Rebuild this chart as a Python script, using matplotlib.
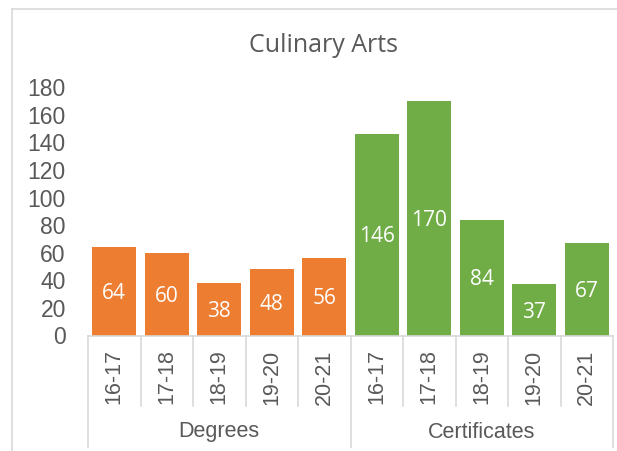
import numpy as np
from matplotlib import pyplot as plt
from matplotlib import transforms
from matplotlib.lines import Line2D

titulo = 'Culinary Arts'
anos = ['16-17', '17-18', '18-19', '19-20', '20-21']
grupos = ['Degrees', 'Certificates']
degrees = [64, 60, 38, 48, 56]
certificates = [146, 170, 84, 37, 67]
y_ticks = [0, 20, 40, 60, 80, 100, 120, 140, 160, 180]

cor_laranja = '#ED7D31'
cor_verde = '#70AD47'
cor_texto = '#595959'
cor_linha = '#D9D9D9'

W, H = 617, 451


def fy(pix):
    # converte pixel (a partir do topo) para fração da figura
    return 1 - pix / H


fig = plt.figure(figsize=(W / 100, H / 100), dpi=100)
ax = fig.add_axes([88 / W, fy(335.5), 525 / W, (335.5 - 87.2) / H])

valores = degrees + certificates
cores = [cor_laranja] * len(degrees) + [cor_verde] * len(certificates)
x = np.arange(len(valores))

barras = ax.bar(x, valores, width=0.84, color=cores)

# rótulos de dados no meio da barra
for xi, v in zip(x, valores):
    ax.annotate(str(v), (xi, v / 2), xytext=(0, -1.5), textcoords='offset points',
                ha='center', va='center', color='white', fontsize=15,
                family='Open Sans')

ax.set_xlim(-0.5, len(valores) - 0.5)
ax.set_ylim(0, 180)
ax.set_yticks(y_ticks)
ax.set_yticklabels([str(v) for v in y_ticks], fontsize=16.5,
                   family='Liberation Sans', color=cor_texto)
ax.tick_params(axis='y', length=0, pad=16)
ax.set_xticks([])
for lado in ['top', 'right', 'left']:
    ax.spines[lado].set_visible(False)
ax.spines['bottom'].set_color(cor_linha)
ax.spines['bottom'].set_linewidth(1.2)

# eixo de categorias em dois níveis
trans = transforms.blended_transform_factory(ax.transData, fig.transFigure)
rotulos = anos + anos
for i, r in enumerate(rotulos):
    ax.text(i, fy(377), r, transform=trans, rotation=90, ha='center', va='center',
            fontsize=15.5, family='Liberation Sans', color=cor_texto)

for i in range(len(valores) + 1):
    xs = i - 0.5
    if i % len(anos) == 0:
        y_fim = 447
    else:
        y_fim = 406
    ax.plot([xs, xs], [fy(335.5), fy(y_fim)], transform=trans, color=cor_linha,
            lw=1.2, clip_on=False)

for g, nome in enumerate(grupos):
    centro = g * len(anos) + (len(anos) - 1) / 2
    ax.text(centro, fy(432), nome, transform=trans, ha='center', va='center',
            fontsize=15.5, family='Liberation Sans', color=cor_texto)

# título
fig.text(0.525, fy(45), titulo, ha='center', va='center', fontsize=18,
         family='Open Sans', color=cor_texto)

# borda do gráfico
fig.add_artist(Line2D([12 / W, 12 / W], [fy(9), 0], color=cor_linha, lw=1.2))
fig.add_artist(Line2D([12 / W, 1], [fy(9), fy(9)], color=cor_linha, lw=1.2))

fig.savefig('out.png', dpi=100)
